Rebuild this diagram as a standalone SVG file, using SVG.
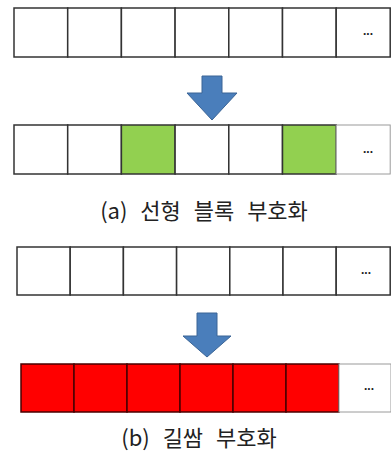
<svg xmlns="http://www.w3.org/2000/svg" width="391" height="459" viewBox="0 0 391 459">
<style>
.c{fill:#ffffff;stroke:#333333;stroke-width:1.5}
.g{fill:#92D050;stroke:#333333;stroke-width:1.5}
.r{fill:#FF0000;stroke:#4a0000;stroke-width:1.5}
.e{fill:#ffffff;stroke:#9a9a9a;stroke-width:1}
.d{font-family:"Liberation Sans",sans-serif;font-size:12px;fill:#222;text-anchor:middle;font-weight:bold}
.cap{font-family:"Noto Sans CJK KR","Noto Sans",sans-serif;font-size:22px;fill:#222;text-anchor:middle;word-spacing:8px}
.arr{fill:#4A7EBB;stroke:#3A6496;stroke-width:1}
</style>
<g id="row1">
<rect class="c" x="14" y="8" width="53.7" height="49"/>
<rect class="c" x="67.7" y="8" width="53.7" height="49"/>
<rect class="c" x="121.4" y="8" width="53.7" height="49"/>
<rect class="c" x="175.1" y="8" width="53.7" height="49"/>
<rect class="c" x="228.8" y="8" width="53.7" height="49"/>
<rect class="c" x="282.5" y="8" width="53.7" height="49"/>
<rect class="c" x="336.2" y="8" width="54" height="49"/>
<text class="d" x="368" y="35">...</text>
</g>
<g id="arrow1">
<polygon class="arr" points="202,76 222,76 222,93 237,93 212,120 187,93 202,93"/>
</g>
<g id="row2">
<rect class="c" x="14" y="125" width="53.7" height="49"/>
<rect class="c" x="67.7" y="125" width="53.7" height="49"/>
<rect class="g" x="121.4" y="125" width="53.7" height="49"/>
<rect class="c" x="175.1" y="125" width="53.7" height="49"/>
<rect class="c" x="228.8" y="125" width="53.7" height="49"/>
<rect class="g" x="282.5" y="125" width="53.7" height="49"/>
<rect class="e" x="336.2" y="125" width="54" height="49"/>
<text class="d" x="368" y="153">...</text>
</g>
<g id="caption-a">
<text class="cap" x="204" y="219">(a) 선형 블록 부호화</text>
</g>
<g id="row3">
<rect class="c" x="17" y="247" width="53.2" height="48"/>
<rect class="c" x="70.2" y="247" width="53.2" height="48"/>
<rect class="c" x="123.4" y="247" width="53.2" height="48"/>
<rect class="c" x="176.6" y="247" width="53.2" height="48"/>
<rect class="c" x="229.8" y="247" width="53.2" height="48"/>
<rect class="c" x="283" y="247" width="53.2" height="48"/>
<rect class="c" x="336.2" y="247" width="54" height="48"/>
<text class="d" x="366" y="274">...</text>
</g>
<g id="arrow2">
<polygon class="arr" points="197,313 217,313 217,336 231,336 207,357 183,336 197,336"/>
</g>
<g id="row4">
<rect class="r" x="21" y="364" width="53" height="48"/>
<rect class="r" x="74" y="364" width="53" height="48"/>
<rect class="r" x="127" y="364" width="53" height="48"/>
<rect class="r" x="180" y="364" width="53" height="48"/>
<rect class="r" x="233" y="364" width="53" height="48"/>
<rect class="r" x="286" y="364" width="53" height="48"/>
<rect class="e" x="339" y="364" width="52" height="48"/>
<text class="d" x="369" y="390">...</text>
</g>
<g id="caption-b">
<text class="cap" x="199" y="446">(b) 길쌈 부호화</text>
</g>
</svg>
